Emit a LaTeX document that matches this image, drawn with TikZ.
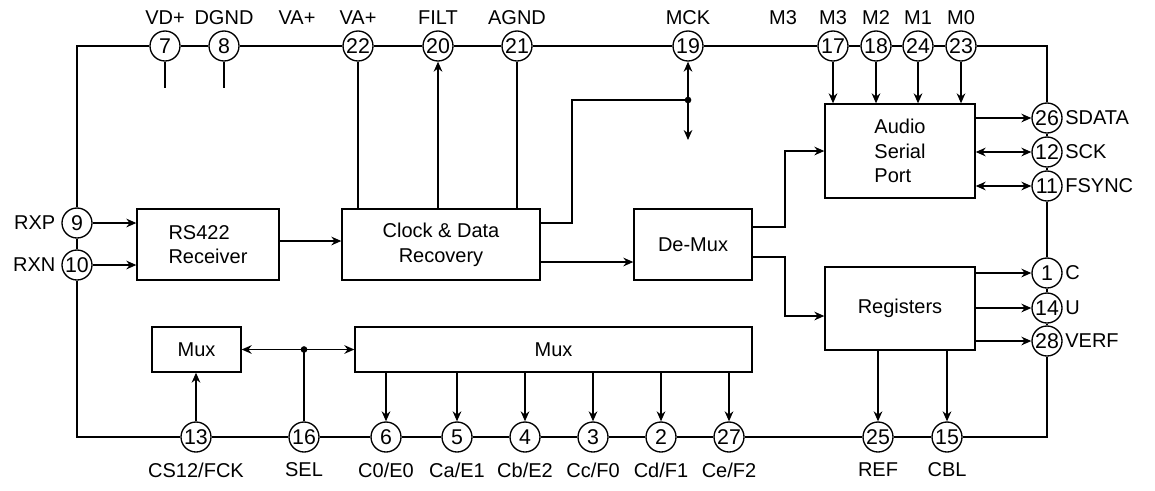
\documentclass[tikz,border=0pt]{standalone}
\usepackage{fontspec}
\setmainfont{Liberation Sans}
\usetikzlibrary{arrows.meta}
\begin{document}
\begin{tikzpicture}[x=0.75pt,y=-0.75pt,line width=1pt,
  box/.style={draw, rectangle, inner sep=0pt, font=\fontsize{15}{18.5}\selectfont},
  pin/.style={draw, circle, minimum size=22.5pt, inner sep=0pt, fill=white, font=\fontsize{16}{16}\selectfont},
  lbl/.style={inner sep=0pt, font=\fontsize{15}{18}\selectfont},
  arr/.style={-{Stealth[length=7.5pt,width=6.5pt]}},
  darr/.style={{Stealth[length=7.5pt,width=6.5pt]}-{Stealth[length=7.5pt,width=6.5pt]}},
  dot/.style={circle, fill, inner sep=0pt, minimum size=5pt}]
\useasboundingbox (0,0) rectangle (1155,490);
% frame corners
\coordinate (tl) at (77,46);
\coordinate (tr) at (1047,46);
\coordinate (bl) at (77,437);
\coordinate (br) at (1047,437);
% top pins
\node[pin] (p7) at (165,46) {7};
\node[pin] (p8) at (224,46) {8};
\node[pin] (p22) at (358,46) {22};
\node[pin] (p20) at (438,46) {20};
\node[pin] (p21) at (517,46) {21};
\node[pin] (p19) at (688,46) {19};
\node[pin] (p17) at (833,46) {17};
\node[pin] (p18) at (876,46) {18};
\node[pin] (p24) at (918,46) {24};
\node[pin] (p23) at (961,46) {23};
% left pins
\node[pin] (p9) at (77,223) {9};
\node[pin] (p10) at (77,265) {10};
% right pins
\node[pin] (p26) at (1047,118) {26};
\node[pin] (p12) at (1047,152) {12};
\node[pin] (p11) at (1047,186) {11};
\node[pin] (p1) at (1047,273) {1};
\node[pin] (p14) at (1047,308) {14};
\node[pin] (p28) at (1047,341) {28};
% bottom pins
\node[pin] (p13) at (196,437) {13};
\node[pin] (p16) at (304,437) {16};
\node[pin] (p6) at (386,437) {6};
\node[pin] (p5) at (457,437) {5};
\node[pin] (p4) at (525,437) {4};
\node[pin] (p3) at (593,437) {3};
\node[pin] (p2) at (661,437) {2};
\node[pin] (p27) at (729,437) {27};
\node[pin] (p25) at (878,437) {25};
\node[pin] (p15) at (947,437) {15};
% frame wires
\draw (p7) -- (tl) -- (p9);
\draw (p9) -- (p10);
\draw (p10) -- (bl) -- (p13) -- (p16) -- (p6) -- (p5) -- (p4) -- (p3) -- (p2) -- (p27) -- (p25) -- (p15) -- (br) -- (p28) -- (p14) -- (p1) -- (p11) -- (p12) -- (p26) -- (tr) -- (p23) -- (p24) -- (p18) -- (p17) -- (p19) -- (p21) -- (p20) -- (p22) -- (p8) -- (p7);
% pin labels top
\node[lbl] at (165,18) {VD+};
\node[lbl] at (224,18) {DGND};
\node[lbl] at (297,18) {VA+};
\node[lbl] at (358,18) {VA+};
\node[lbl] at (438,18) {FILT};
\node[lbl] at (517,18) {AGND};
\node[lbl] at (688,18) {MCK};
\node[lbl] at (783,18) {M3};
\node[lbl] at (833,18) {M3};
\node[lbl] at (876,18) {M2};
\node[lbl] at (918,18) {M1};
\node[lbl] at (961,18) {M0};
% left labels
\node[lbl, anchor=east] at ([xshift=-4pt]p9.west) {RXP};
\node[lbl, anchor=east] at ([xshift=-4pt]p10.west) {RXN};
% right labels
\node[lbl, anchor=west] at ([xshift=1.5pt]p26.east) {SDATA};
\node[lbl, anchor=west] at ([xshift=1.5pt]p12.east) {SCK};
\node[lbl, anchor=west] at ([xshift=1.5pt]p11.east) {FSYNC};
\node[lbl, anchor=west] at ([xshift=1.5pt]p1.east) {C};
\node[lbl, anchor=west] at ([xshift=1.5pt]p14.east) {U};
\node[lbl, anchor=west] at ([xshift=1.5pt]p28.east) {VERF};
% bottom labels
\node[lbl] at (196,470) {CS12/FCK};
\node[lbl] at (304,470) {SEL};
\node[lbl] at (386,470) {C0/E0};
\node[lbl] at (457,470) {Ca/E1};
\node[lbl] at (525,470) {Cb/E2};
\node[lbl] at (593,470) {Cc/F0};
\node[lbl] at (661,470) {Cd/F1};
\node[lbl] at (729,470) {Ce/F2};
\node[lbl] at (878,470) {REF};
\node[lbl] at (947,470) {CBL};
% boxes
\node[box, minimum width=106.5pt, minimum height=53.25pt, align=left] (rs) at (208,244.5) {RS422\\Receiver};
\node[box, minimum width=148.5pt, minimum height=53.25pt, align=center] (cdr) at (441,244.5) {Clock \& Data\\Recovery};
\node[box, minimum width=88.5pt, minimum height=53.25pt] (dm) at (693,244.5) {De-Mux};
\node[box, minimum width=112.5pt, minimum height=70.5pt, align=left] (asp) at (900,151) {Audio\\Serial\\Port};
\node[box, minimum width=112.5pt, minimum height=62.25pt] (reg) at (900,308.5) {Registers};
\node[box, minimum width=66.75pt, minimum height=33.75pt] (mux1) at (196.5,349.5) {Mux};
\node[box, minimum width=297.75pt, minimum height=33.75pt] (mux2) at (553.5,349.5) {Mux};
% stubs on 7, 8
\coordinate (s7) at (165,88);
\coordinate (s8) at (224,88);
\draw (p7) -- (s7);
\draw (p8) -- (s8);
% clock box top connections
\draw (p22) -- (p22 |- cdr.north);
\draw[arr] (p20 |- cdr.north) -- (p20);
\draw (p21) -- (p21 |- cdr.north);
% MCK
\coordinate (j19) at (688,100);
\coordinate (m19) at (688,140);
\draw (cdr.east |- 0,223) -- (572,223) |- (j19);
\draw[arr] (j19) -- (p19);
\draw[arr] (j19) -- (m19);
\node[dot] at (j19) {};
% RS422 inputs
\draw[arr] (p9) -- (p9 -| rs.west);
\draw[arr] (p10) -- (p10 -| rs.west);
\draw[arr] (rs.east |- 0,241) -- (cdr.west |- 0,241);
\draw[arr] (cdr.east |- 0,262) -- (dm.west |- 0,262);
% De-Mux outputs
\draw[arr] (dm.east |- 0,227) -- (785,227) |- (asp.west);
\draw[arr] (dm.east |- 0,257) -- (785,257) |- (reg.west |- 0,316);
% mode pins
\draw[arr] (p17) -- (p17 |- asp.north);
\draw[arr] (p18) -- (p18 |- asp.north);
\draw[arr] (p24) -- (p24 |- asp.north);
\draw[arr] (p23) -- (p23 |- asp.north);
% audio port outputs
\draw[arr] (asp.east |- p26) -- (p26);
\draw[darr] (asp.east |- p12) -- (p12);
\draw[darr] (asp.east |- p11) -- (p11);
% registers outputs
\draw[arr] (reg.east |- p1) -- (p1);
\draw[arr] (reg.east |- p14) -- (p14);
\draw[arr] (reg.east |- p28) -- (p28);
\draw[arr] (p25 |- reg.south) -- (p25);
\draw[arr] (p15 |- reg.south) -- (p15);
% mux
\draw[arr] (p13) -- (p13 |- mux1.south);
\coordinate (j16) at (p16 |- mux1.east);
\draw (p16) -- (j16);
\draw[arr] (j16) -- (mux1.east);
\draw[arr] (j16) -- (mux2.west);
\node[dot] at (j16) {};
\foreach \p in {p6,p5,p4,p3,p2,p27}
  \draw[arr] (\p |- mux2.south) -- (\p);
\end{tikzpicture}
\end{document}
